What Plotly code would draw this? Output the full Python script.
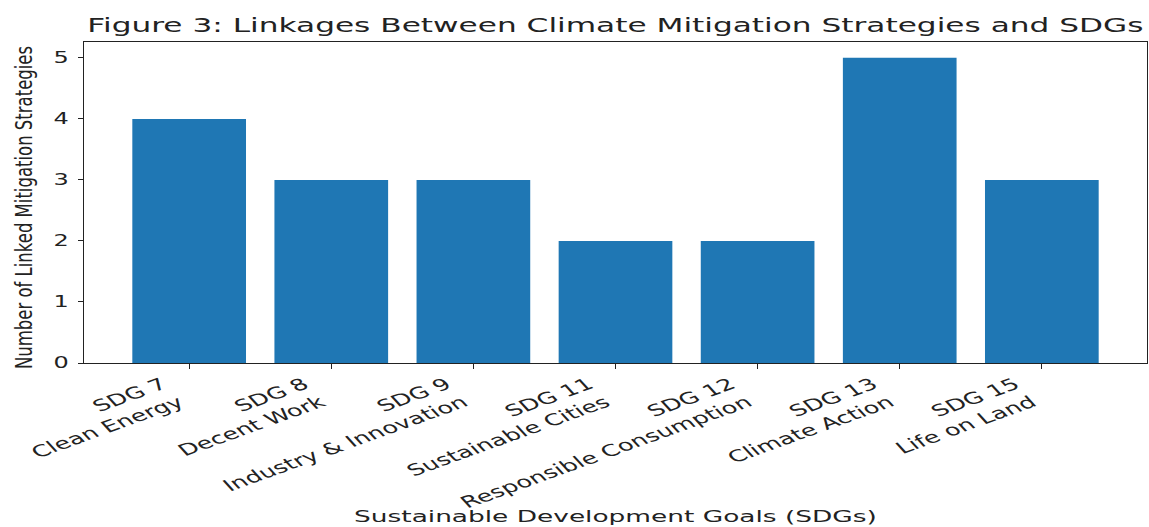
import plotly.graph_objects as go

# SDG categories and number of mitigation strategies linked to each
sdg_codes = ["SDG 7", "SDG 8", "SDG 9", "SDG 11", "SDG 12", "SDG 13", "SDG 15"]
sdg_names = ["Clean Energy", "Decent Work", "Industry & Innovation",
             "Sustainable Cities", "Responsible Consumption",
             "Climate Action", "Life on Land"]
linked_counts = [4, 3, 3, 2, 2, 5, 3]
y_ticks = [0, 1, 2, 3, 4, 5]

tick_labels = [f"{c}<br>{n}" for c, n in zip(sdg_codes, sdg_names)]
x_pos = list(range(len(sdg_codes)))

fig = go.Figure(go.Bar(
    x=x_pos,
    y=linked_counts,
    width=0.8,
    marker=dict(color="#1f77b4", line=dict(width=0)),
))

font_main = "DejaVu Sans, Verdana, sans-serif"
ink = "#222"

fig.update_layout(
    width=1149,
    height=527,
    margin=dict(l=84, r=2, t=42, b=164, autoexpand=False),
    plot_bgcolor="white",
    paper_bgcolor="white",
    showlegend=False,
    title=dict(
        text="Figure 3: Linkages Between Climate Mitigation Strategies and SDGs",
        x=0.5356, xanchor="center", y=0.952, yanchor="middle",
        font=dict(family=font_main, size=19.5, color=ink),
    ),
    font=dict(family=font_main, color=ink),
    annotations=[dict(
        text="Sustainable Development Goals (SDGs)",
        xref="paper", yref="paper", x=0.5, y=-0.478,
        xanchor="center", yanchor="middle", showarrow=False,
        font=dict(family=font_main, size=16.5, color=ink),
        name="xlabel",
    )],
)

fig.update_xaxes(
    range=[-0.74, 6.74],
    automargin=False,
    tickmode="array",
    tickvals=x_pos,
    ticktext=tick_labels,
    tickangle=-30,
    tickfont=dict(size=16, color=ink),
    ticks="outside", ticklen=5, tickcolor=ink,
    showline=True, linecolor=ink, linewidth=1.2, mirror=True,
    showgrid=False, zeroline=False,
)

fig.update_yaxes(
    range=[0, 5.26],
    automargin=False,
    tickmode="array",
    tickvals=y_ticks,
    tickfont=dict(size=15, color=ink),
    ticks="outside", ticklen=5, tickcolor=ink,
    showline=True, linecolor=ink, linewidth=1.2, mirror=True,
    showgrid=False, zeroline=False,
    title=dict(text="Number of Linked Mitigation Strategies",
               font=dict(size=16.5, color=ink), standoff=30),
)

# The figure's text is drawn wide: every label is stretched horizontally
# about its anchor (right end for tick labels, centre for titles), then
# nudged by a small offset.
stretch_js = """
var gd = document.getElementById('{plot_id}');
var svg = gd.querySelector('svg.main-svg');
function stretchText(el, mode, sx, dx, dy) {
  var r = el.getBoundingClientRect();
  var ax = mode === 'right' ? r.right : (r.left + r.right) / 2;
  var m = el.parentNode.getScreenCTM();
  var p = svg.createSVGPoint();
  p.x = ax; p.y = (r.top + r.bottom) / 2;
  var q = p.matrixTransform(m.inverse());
  var prev = el.getAttribute('transform') || '';
  el.setAttribute('transform',
    'translate(' + (q.x + dx) + ',' + dy + ') scale(' + sx + ',1) translate(' + (-q.x) + ',0) ' + prev);
}
function each(sel, mode, sx, dx, dy) {
  gd.querySelectorAll(sel).forEach(function (el) { stretchText(el, mode, sx, dx, dy); });
}
each('g.xtick text', 'right', 1.6, -17, 0);
each('g.ytick text', 'right', 1.6, -6, 0);
each('text.gtitle', 'center', 1.6, 0, 0);
each('g.annotation-text-g text', 'center', 1.6, 0, 0);
each('text.ytitle', 'center', 1.35, 0, 5);
"""

fig.write_html("out.html", post_script=stretch_js)
